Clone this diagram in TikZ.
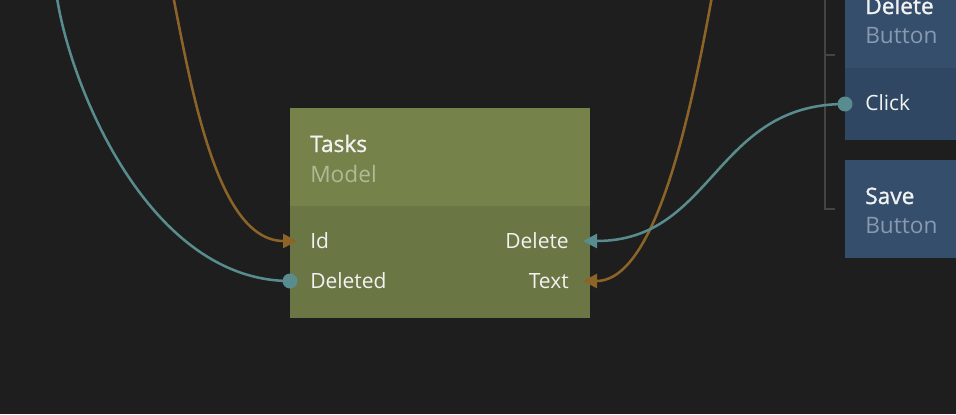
\documentclass[tikz,border=0pt]{standalone}
\usepackage{fontspec}
\setmainfont{Open Sans}
\newfontfamily\semibold{Open Sans}[FakeBold=1.2]
\usepackage{xcolor}
\usetikzlibrary{arrows.meta}
\definecolor{canvas}{RGB}{30,30,30}
\definecolor{modelhead}{RGB}{117,130,74}
\definecolor{modelbody}{RGB}{106,119,69}
\definecolor{buttonhead}{RGB}{52,78,108}
\definecolor{buttonbody}{RGB}{47,71,98}
\definecolor{wirestring}{RGB}{140,100,40}
\definecolor{wiresignal}{RGB}{88,140,142}
\definecolor{bracketgray}{RGB}{68,68,68}
\definecolor{titlewhite}{RGB}{242,242,242}
\definecolor{modelsub}{RGB}{176,186,150}
\definecolor{buttonsub}{RGB}{136,154,176}
\tikzset{
  title/.style={anchor=base west,inner sep=0,text=titlewhite,font=\semibold\fontsize{17}{20}\selectfont},
  subtitle/.style={anchor=base west,inner sep=0,font=\fontsize{17}{20}\selectfont},
  portlabel/.style={inner sep=0,text=titlewhite,font=\fontsize{15.75}{18}\selectfont},
  wire/.style={line width=1.9pt},
  tip/.style={-{Triangle[length=10.5pt,width=10.5pt]}}
}

\begin{document}
\begin{tikzpicture}[x=0.75pt,y=-0.75pt]
        % Canvas
        \fill[canvas] (0,0) rectangle (956,414);
        \useasboundingbox (0,0) rectangle (956,414);
        \clip (0,0) rectangle (956,414);
        % Tasks model node
        \fill[modelhead] (290,108) rectangle (590,206);
        \fill[modelbody] (290,206) rectangle (590,318);
        \node[title] (tasks) at (310,152) {Tasks};
        \node[subtitle,text=modelsub] (model) at (310,182) {Model};
        \node[portlabel,anchor=base west] (id) at (310,248) {Id};
        \node[portlabel,anchor=base west] (deleted) at (310,288) {Deleted};
        \node[portlabel,anchor=base east] (delete) at (569,248) {Delete};
        \node[portlabel,anchor=base east] (text) at (569,288) {Text};
        % Bracket of the button group
        \draw[bracketgray,line width=1.3pt] (835,55) -- (825,55) (825,-5) -- (825,209) -- (835,209);
        % Delete button with its Click port
        \fill[buttonhead] (845,-40) rectangle (960,68);
        \fill[buttonbody] (845,68) rectangle (960,140);
        \node[title] (deletetitle) at (865,14) {Delete};
        \node[subtitle,text=buttonsub] (deletesub) at (865,43) {Button};
        \node[portlabel,anchor=base west] (click) at (865,110) {Click};
        % Save button
        \fill[buttonhead] (845,160) rectangle (960,258);
        \node[title] (savetitle) at (865,204) {Save};
        \node[subtitle,text=buttonsub] (savesub) at (865,233) {Button};
        % Port points
        \coordinate (idIn) at (297,241);
        \coordinate (deletedOut) at (290,281);
        \coordinate (deleteIn) at (583,241);
        \coordinate (textIn) at (583,281);
        \coordinate (clickOut) at (845,104);
        \coordinate (farA) at (55,-20);
        \coordinate (farB) at (170,-20);
        \coordinate (farC) at (715,-20);
        % Wires
        \draw[wire,wiresignal] (deletedOut) .. controls (140,281) and (60,60) .. (farA);
        \draw[wire,wirestring,tip] (farB) .. controls (190,80) and (215,241) .. (idIn);
        \draw[wire,wirestring,tip] (farC) .. controls (695,90) and (660,281) .. (textIn);
        \draw[wire,wiresignal,tip] (clickOut) .. controls (714,104) and (714,241) .. (deleteIn);
        % Signal dots
        \fill[wiresignal] (deletedOut) circle (7.5);
        \fill[wiresignal] (clickOut) circle (7.5);
    \end{tikzpicture}
\end{document}
